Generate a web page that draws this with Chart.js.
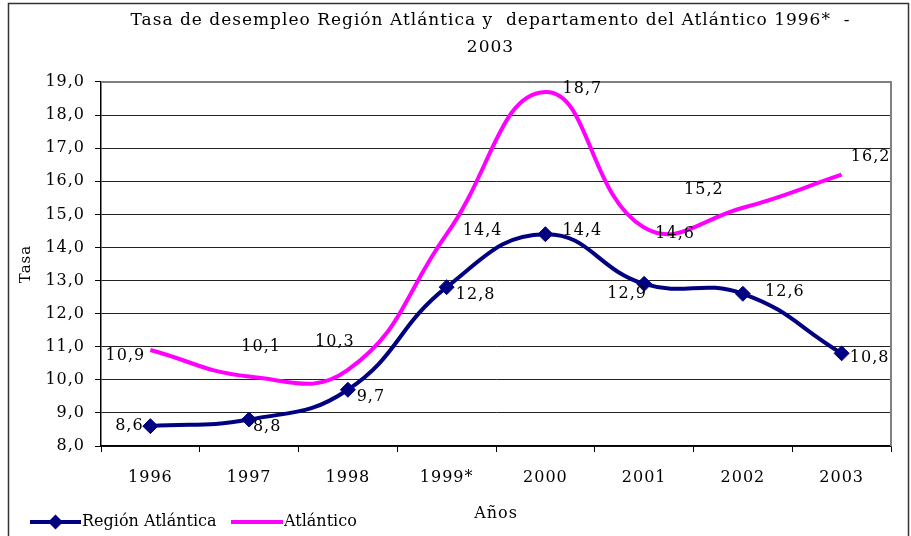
<!DOCTYPE html>
<html>
<head>
<meta charset="utf-8">
<script src="https://cdn.jsdelivr.net/npm/chart.js@4.4.0/dist/chart.umd.min.js"></script>
<style>
  html, body { margin: 0; padding: 0; background: #fff; }
  canvas { display: block; }
</style>
</head>
<body>
<canvas id="chart" width="911" height="536"></canvas>
<script>
"use strict";

// Data
const years = ["1996", "1997", "1998", "1999*", "2000", "2001", "2002", "2003"];
const regionAtlantica = [8.6, 8.8, 9.7, 12.8, 14.4, 12.9, 12.6, 10.8];
const atlantico = [10.9, 10.1, 10.3, 14.4, 18.7, 14.6, 15.2, 16.2];
const titleLines = [
  "Tasa de desempleo Región Atlántica y  departamento del Atlántico 1996*  -",
  "2003",
];

// where each value label sits, in px from its point
const regionLabelOffsets = [[-21, 0], [18, 7], [23, 7], [29, 8], [37, -3], [-17, 10], [42, -2], [28, 5]];
const atlanticoLabelOffsets = [[-25, 6], [12, -30], [-13, -28], [36, -3], [37, -3], [31, 6], [-39, -18], [29, -18]];

const FONT = "'DejaVu Serif', serif";
const SPACING = "1px";
const NAVY = "#000080";
const MAGENTA = "#ff00ff";
const fmt = (v) => v.toFixed(1).replace(".", ",");

// slightly wide letter spacing, like the original
const spacingPlugin = {
  id: "spacing",
  beforeLayout(chart) { chart.ctx.letterSpacing = SPACING; },
  beforeDraw(chart) { chart.ctx.letterSpacing = SPACING; },
};

// outer frame, plot frame, and title centred over the plot
const framePlugin = {
  id: "frame",
  afterLayout(chart) {
    if (chart.titleBlock) {
      chart.titleBlock.left += 45;
      chart.titleBlock.right += 45;
    }
  },
  beforeDraw(chart) {
    const ctx = chart.ctx;
    ctx.save();
    ctx.strokeStyle = "#333";
    ctx.lineWidth = 1.5;
    ctx.strokeRect(8.5, 3.5, 900, 560);
    ctx.restore();
  },
  beforeDatasetsDraw(chart) {
    const { ctx, chartArea: a } = chart;
    ctx.save();
    ctx.strokeStyle = "#808080";
    ctx.lineWidth = 2;
    ctx.beginPath();
    ctx.moveTo(a.left, a.top);
    ctx.lineTo(a.right, a.top);
    ctx.lineTo(a.right, a.bottom);
    ctx.stroke();
    ctx.restore();
  },
};

const valueLabels = {
  id: "valueLabels",
  afterDatasetsDraw(chart) {
    const ctx = chart.ctx;
    const offsets = [regionLabelOffsets, atlanticoLabelOffsets];
    ctx.save();
    ctx.font = "16px " + FONT;
    ctx.fillStyle = "#000";
    ctx.textAlign = "center";
    ctx.textBaseline = "middle";
    chart.data.datasets.forEach((ds, i) => {
      const meta = chart.getDatasetMeta(i);
      meta.data.forEach((pt, j) => {
        const [dx, dy] = offsets[i][j];
        ctx.fillText(fmt(ds.data[j]), pt.x + dx, pt.y + dy);
      });
    });
    ctx.restore();
  },
};

// legend drawn by hand so it can share the row with the axis title
const legendRow = {
  id: "legendRow",
  afterDraw(chart) {
    const ctx = chart.ctx;
    const y = 522;
    const items = [
      { x0: 30, x1: 81, tx: 82 },
      { x0: 231, x1: 283, tx: 284 },
    ];
    ctx.save();
    ctx.letterSpacing = "0px";
    ctx.font = "16px " + FONT;
    ctx.textBaseline = "middle";
    ctx.textAlign = "left";
    chart.data.datasets.forEach((ds, i) => {
      const it = items[i];
      ctx.strokeStyle = ds.borderColor;
      ctx.lineWidth = 4;
      ctx.beginPath();
      ctx.moveTo(it.x0, y);
      ctx.lineTo(it.x1, y);
      ctx.stroke();
      if (ds.pointRadius > 0) {
        ctx.fillStyle = ds.pointBackgroundColor;
        Chart.helpers.drawPoint(ctx, { pointStyle: ds.pointStyle, radius: ds.pointRadius, borderWidth: 0 }, (it.x0 + it.x1) / 2, y);
      }
      ctx.fillStyle = "#000";
      ctx.fillText(ds.label, it.tx, y);
    });
    ctx.restore();
  },
};

new Chart(document.getElementById("chart"), {
  type: "line",
  data: {
    labels: years,
    datasets: [
      {
        label: "Región Atlántica",
        data: regionAtlantica,
        borderColor: NAVY,
        backgroundColor: NAVY,
        borderWidth: 4,
        tension: 0.45,
        pointStyle: "rectRot",
        pointRadius: 7.5,
        pointBackgroundColor: NAVY,
        pointBorderColor: NAVY,
        pointBorderWidth: 1,
      },
      {
        label: "Atlántico",
        data: atlantico,
        borderColor: MAGENTA,
        backgroundColor: MAGENTA,
        borderWidth: 4,
        tension: 0.45,
        pointRadius: 0,
      },
    ],
  },
  options: {
    responsive: false,
    animation: false,
    devicePixelRatio: 1,
    layout: { padding: { left: 0, right: 20, top: 0, bottom: 0 } },
    plugins: {
      legend: { display: false },
      tooltip: { enabled: false },
      title: {
        display: true,
        text: titleLines,
        color: "#000",
        font: { family: FONT, size: 17, weight: "normal", lineHeight: 1.588 },
        padding: { top: 7, bottom: 21 },
      },
    },
    scales: {
      x: {
        offset: true,
        grid: { drawOnChartArea: false, offset: true, tickLength: 6, color: "#000" },
        border: { color: "#000", width: 1.5 },
        ticks: { color: "#000", font: { family: FONT, size: 16 }, padding: 16, maxRotation: 0 },
        title: {
          display: true,
          text: "Años",
          color: "#000",
          font: { family: FONT, size: 16 },
          padding: { top: 0, bottom: 13 },
        },
        afterFit(s) { s.height = 90; },
      },
      y: {
        min: 8,
        max: 19,
        grid: {
          tickLength: 6,
          color: (c) => (c.tick && c.tick.value === 19 ? "#808080" : "#222"),
          tickColor: "#000",
        },
        border: { color: "#000", width: 1.5 },
        ticks: { stepSize: 1, color: "#000", font: { family: FONT, size: 16 }, padding: 10, callback: (v) => fmt(v) },
        title: {
          display: true,
          text: "Tasa",
          color: "#000",
          font: { family: FONT, size: 15 },
          padding: { top: 17 },
        },
        afterFit(s) { s.width = 101; },
      },
    },
  },
  plugins: [spacingPlugin, framePlugin, valueLabels, legendRow],
});
</script>
</body>
</html>
